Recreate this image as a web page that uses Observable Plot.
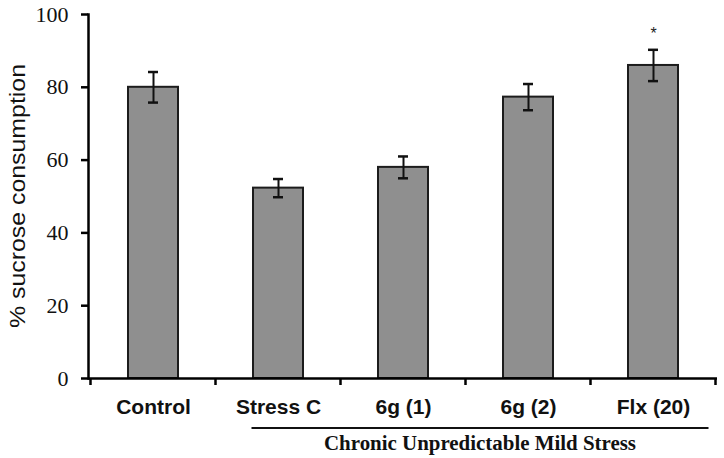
<!DOCTYPE html>
<html>
<head>
<meta charset="utf-8">
<script src="https://cdn.jsdelivr.net/npm/d3@7"></script>
<script src="https://cdn.jsdelivr.net/npm/@observablehq/plot@0.6"></script>
<style>
  html, body { margin: 0; padding: 0; background: #fff; }
  #chart svg { display: block; }
</style>
</head>
<body>
<div id="chart"></div>
<script>
const categories = ["Control", "Stress C", "6g (1)", "6g (2)", "Flx (20)"];
const means = [80, 52.3, 58, 77.3, 86];
const errors = [4.2, 2.5, 3, 3.6, 4.3];
const significance = ["", "", "", "", "*"];
const yTicks = [0, 20, 40, 60, 80, 100];
const yLabel = "% sucrose consumption";
const groupLabel = "Chronic Unpredictable Mild Stress";
const groupMembers = ["Stress C", "6g (1)", "6g (2)", "Flx (20)"];

const data = categories.map((c, i) => ({
  cat: c, mean: means[i], lo: means[i] - errors[i], hi: means[i] + errors[i], sig: significance[i]
}));

const W = 724, H = 458;
const chart = Plot.plot({
  width: W,
  height: H,
  marginLeft: 88,
  marginRight: 7,
  marginTop: 14,
  marginBottom: 80,
  style: { background: "#fff", overflow: "visible" },
  x: { domain: categories, paddingInner: 0.6, paddingOuter: 0.3, label: null },
  y: { domain: [0, 100], label: null },
  marks: [
    Plot.barY(data, { x: "cat", y: "mean", fill: "#8f8f8f", stroke: "#1c1c1c", strokeWidth: 2 }),
    Plot.ruleX(data, { x: "cat", y1: "lo", y2: "hi", stroke: "#111", strokeWidth: 2 }),
    Plot.tickY(data, { x: "cat", y: "lo", stroke: "#111", strokeWidth: 2.5, insetLeft: 20, insetRight: 20 }),
    Plot.tickY(data, { x: "cat", y: "hi", stroke: "#111", strokeWidth: 2.5, insetLeft: 20, insetRight: 20 }),
    Plot.text(data, { x: "cat", y: "hi", text: "sig", dy: -16, fontSize: 16, fill: "#222", fontFamily: "Liberation Sans" }),
    Plot.axisY({ ticks: yTicks, tickSize: 7, tickFormat: d => d, fontSize: 22, fontFamily: "Liberation Serif",
                 tickPadding: 13, stroke: "#000", strokeWidth: 2.5, fill: "#111" }),
    Plot.axisX({ tickSize: 0, tickPadding: 21, fontSize: 21, fontWeight: "bold", fontFamily: "Liberation Sans", fill: "#111" }),
    Plot.ruleY([0], { stroke: "#000", strokeWidth: 2.5 }),
    Plot.frame({ anchor: "left", stroke: "#000", strokeWidth: 2.5 })
  ]
});

const svg = d3.select(chart);
const yScale = chart.scale("y");
const xScale = chart.scale("x");
const yMid = (yScale.range[0] + yScale.range[1]) / 2;

// y-axis title
svg.append("text")
  .attr("transform", `translate(25,${yMid}) rotate(-90)`)
  .attr("text-anchor", "middle")
  .attr("font-family", "Liberation Sans")
  .attr("font-size", 22)
  .attr("fill", "#111")
  .attr("textLength", 264)
  .attr("lengthAdjust", "spacingAndGlyphs")
  .text(yLabel);

// category boundary ticks below the axis
const step = xScale.step, bw = xScale.bandwidth;
const boundary = c => xScale.apply(c) - (step - bw) / 2;
const bounds = categories.map(boundary).concat([boundary(categories[categories.length - 1]) + step]);
const y0 = yScale.apply(0);
svg.append("g").selectAll("line").data(bounds).join("line")
  .attr("x1", d => d).attr("x2", d => d)
  .attr("y1", y0).attr("y2", y0 + 7)
  .attr("stroke", "#000").attr("stroke-width", 2.5);

// group bracket line and label
const gStart = boundary(groupMembers[0]) + 36;
const gEnd = boundary(groupMembers[groupMembers.length - 1]) + step - 7;
svg.append("line")
  .attr("x1", gStart).attr("x2", gEnd)
  .attr("y1", y0 + 50).attr("y2", y0 + 50)
  .attr("stroke", "#111").attr("stroke-width", 2);
svg.append("text")
  .attr("x", (gStart + gEnd) / 2)
  .attr("y", y0 + 72)
  .attr("text-anchor", "middle")
  .attr("font-family", "Liberation Serif")
  .attr("font-weight", "bold")
  .attr("font-size", 20)
  .attr("fill", "#111")
  .attr("textLength", 312)
  .attr("lengthAdjust", "spacingAndGlyphs")
  .text(groupLabel);

document.getElementById("chart").appendChild(chart);
</script>
</body>
</html>
